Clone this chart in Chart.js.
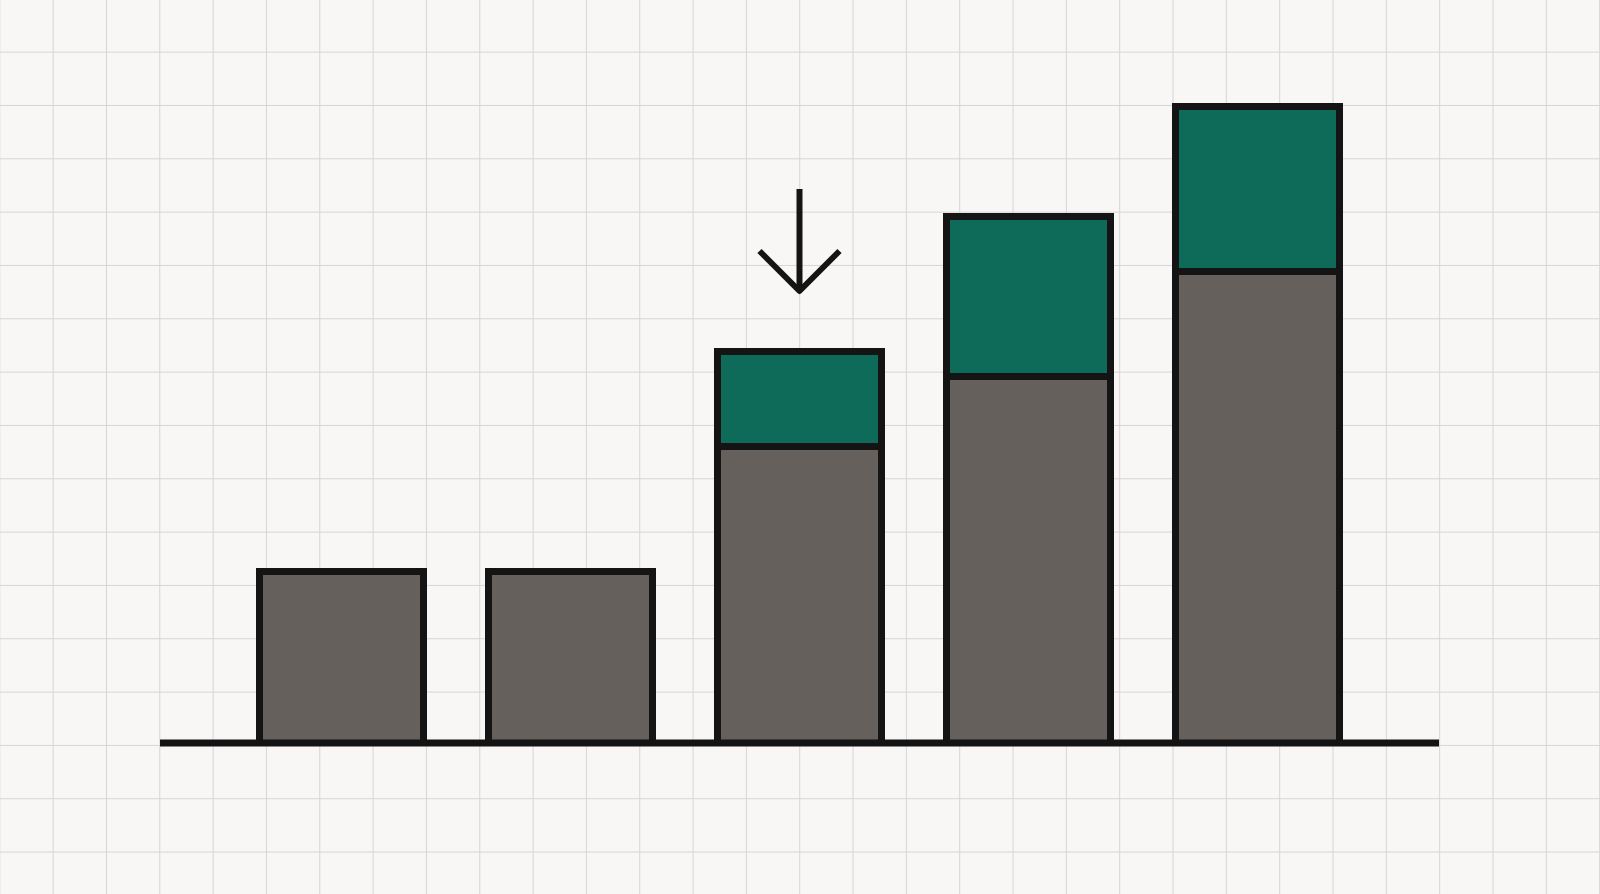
<!DOCTYPE html>
<html>
<head>
<meta charset="utf-8">
<title>Stacked bars</title>
<script src="https://cdn.jsdelivr.net/npm/chart.js"></script>
<style>
  html, body {
    margin: 0;
    padding: 0;
    overflow: hidden;
  }
  body {
    background-color: #f8f7f6;
    /* papier quadrille */
    background-image:
      linear-gradient(to right, #d6d5d5 1.4px, transparent 1.4px),
      linear-gradient(to bottom, #d6d5d5 1.4px, transparent 1.4px);
    background-size: 53.333px 53.333px;
    background-position: -0.7px -1.7px;
  }
  .wrap {
    position: relative;
    width: 1600px;
    height: 894px;
  }
</style>
</head>
<body>
<div class="wrap">
  <canvas id="stackChart"></canvas>
</div>
<script>
// Donnees
const categories = ['A', 'B', 'C', 'D', 'E'];
const baseValues = [35, 35, 60, 74, 95];
const topValues = [0, 0, 19, 32, 33];
const highlightIndex = 2; // la fleche pointe sur cette barre

const INK = '#141414';

// Ligne de base qui deborde un peu des barres
const baselinePlugin = {
  id: 'baseline',
  afterDatasetsDraw(chart) {
    const { ctx, chartArea, scales } = chart;
    const y = scales.y.getPixelForValue(0);
    const overhang = 67;
    ctx.save();
    ctx.strokeStyle = INK;
    ctx.lineWidth = 7;
    ctx.lineCap = 'butt';
    ctx.beginPath();
    ctx.moveTo(chartArea.left - overhang, y);
    ctx.lineTo(chartArea.right + overhang, y);
    ctx.stroke();
    ctx.restore();
  }
};

// Fleche au-dessus de la barre mise en avant
const arrowPlugin = {
  id: 'arrow',
  afterDatasetsDraw(chart) {
    const meta = chart.getDatasetMeta(1);
    const bar = meta.data[highlightIndex];
    if (!bar) return;
    const { ctx } = chart;
    const x = bar.x;
    const tip = bar.y - 57;
    const tail = tip - 102;
    const head = 40;
    ctx.save();
    ctx.strokeStyle = INK;
    ctx.lineWidth = 6;
    ctx.lineCap = 'butt';
    ctx.lineJoin = 'round';
    ctx.beginPath();
    ctx.moveTo(x, tail);
    ctx.lineTo(x, tip);
    ctx.stroke();
    ctx.beginPath();
    ctx.moveTo(x - head, tip - head);
    ctx.lineTo(x, tip);
    ctx.lineTo(x + head, tip - head);
    ctx.stroke();
    ctx.restore();
  }
};

const ctx = document.getElementById('stackChart').getContext('2d');
new Chart(ctx, {
  type: 'bar',
  data: {
    labels: categories,
    datasets: [{
      label: 'Base',
      data: baseValues,
      backgroundColor: '#65605c',
      borderColor: INK,
      borderWidth: 7,
      borderSkipped: 'start'
    }, {
      label: 'Hausse',
      data: topValues,
      backgroundColor: '#0e6b5a',
      borderColor: INK,
      borderWidth: 7,
      borderSkipped: 'start'
    }]
  },
  options: {
    responsive: true,
    maintainAspectRatio: false,
    animation: false,
    barPercentage: 171 / 229,
    categoryPercentage: 1,
    layout: {
      padding: { left: 227, right: 228, top: 43, bottom: 151 }
    },
    plugins: {
      legend: { display: false },
      tooltip: { enabled: false }
    },
    scales: {
      x: { stacked: true, display: false },
      y: { stacked: true, display: false, min: 0, max: 140 }
    }
  },
  plugins: [baselinePlugin, arrowPlugin]
});
</script>
</body>
</html>
